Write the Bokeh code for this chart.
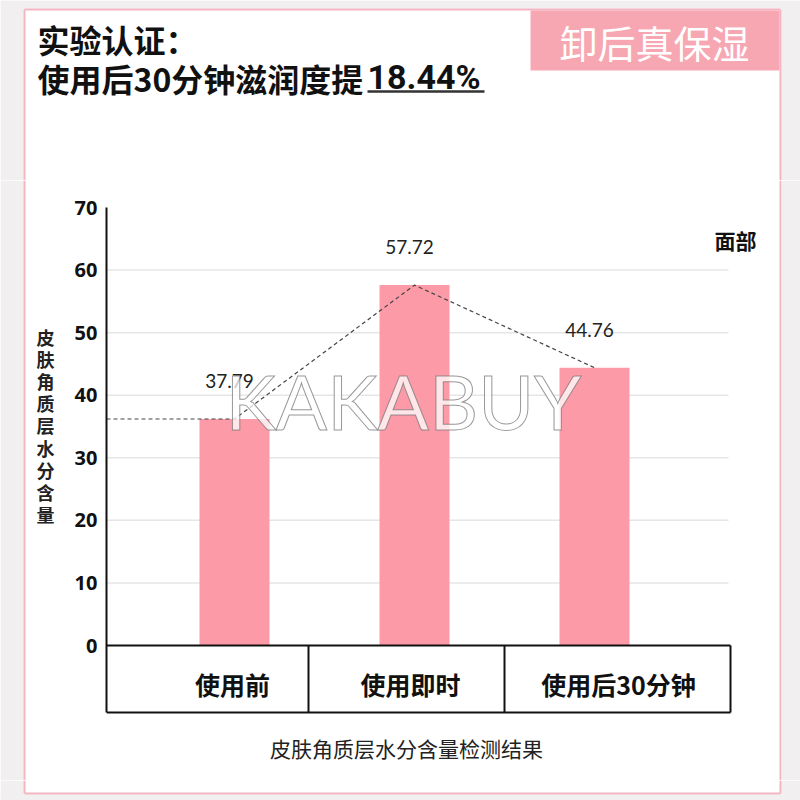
from bokeh.plotting import figure
from bokeh.layouts import column, row
from bokeh.models import Range1d, FixedTicker
from bokeh.core.properties import value
from bokeh.embed import file_html
from bokeh.resources import INLINE

# ---------------- data ----------------
categories = ["使用前", "使用即时", "使用后30分钟"]
bar_values = [36.2, 57.6, 44.4]
value_labels = ["37.79", "57.72", "44.76"]
y_ticks = [0, 10, 20, 30, 40, 50, 60, 70]
title_line1 = "实验认证："
title_line2 = "使用后30分钟滋润度提"
title_highlight = "18.44%"
badge_text = "卸后真保湿"
y_title = "皮肤角质层水分含量"
x_title = "皮肤角质层水分含量检测结果"
region_label = "面部"
watermark = "KAKABUY"

# ---------------- styles / layout (page pixels) ----------------
CJK = "Noto Sans CJK SC"
PINK_BAR = "#fd9aa8"
PINK_BADGE = "#f7a7b2"
PINK_LINE = "#f3b5c1"
GREY = "#f1eff0"
INK = "#111111"

HEAD_H = 180
FOOT_Y = 780
LEFT_W = 66
AXIS_W = 40
FL = LEFT_W + AXIS_W  # frame left (page x) = 106
Y0 = 645              # page y of value 0
Y70 = 207             # page y of value 70
PPU_Y = (Y0 - Y70) / 70
SLOT = 180
FIRST = 234
x_start = -(FIRST - FL) / SLOT
x_end = x_start + (800 - FL) / SLOT
y_end = (Y0 - HEAD_H) / PPU_Y
y_start = -(FOOT_Y - Y0) / PPU_Y


def px(x):
    return x_start + (x - FL) / SLOT


def py(y):
    return (Y0 - y) / PPU_Y


def blank(w, h, x0, y0):
    f = figure(width=w, height=h, output_backend="svg", toolbar_location=None,
               x_range=Range1d(x0, x0 + w), y_range=Range1d(y0 + h, y0),
               x_axis_location=None, y_axis_location=None,
               min_border_left=0, min_border_right=0, min_border_top=0,
               min_border_bottom=0, outline_line_color=None,
               background_fill_color="white", border_fill_color="white")
    f.grid.visible = False
    return f


# ---------------- header ----------------
H = blank(800, HEAD_H, 0, 0)
H.quad(left=[0, 781, 0], right=[23, 800, 800], top=[0, 0, 0],
       bottom=[HEAD_H, HEAD_H, 8], fill_color=GREY, line_color=None)
H.segment(x0=[24, 24, 780], y0=[9, 9, 9], x1=[780, 24, 780], y1=[9, HEAD_H, HEAD_H],
          line_color=PINK_LINE, line_width=2)
H.quad(left=[530], right=[779], top=[10], bottom=[70], fill_color=PINK_BADGE,
       line_color=None)
H.text(x=[654], y=[41], text=[badge_text], text_align="center", text_baseline="middle",
       text_font=value(CJK), text_font_size="38px", text_color="white")
H.text(x=[37, 37], y=[38, 77], text=[title_line1, title_line2], text_align="left",
       text_baseline="middle", text_font=value(CJK), text_font_style="bold",
       text_font_size="32px", text_color=INK)
H.text(x=[367], y=[76], text=[title_highlight], text_align="left",
       text_baseline="middle", text_font=value("Roboto"), text_font_style="bold",
       text_font_size="34px", text_color=INK)
H.segment(x0=[367], y0=[91], x1=[484], y1=[91], line_color="#333333", line_width=2.5)

# ---------------- left strip (y title) ----------------
L = blank(LEFT_W, FOOT_Y - HEAD_H, 0, HEAD_H)
L.quad(left=[0], right=[23], top=[HEAD_H], bottom=[FOOT_Y], fill_color=GREY,
       line_color=None)
L.segment(x0=[24], y0=[HEAD_H], x1=[24], y1=[FOOT_Y], line_color=PINK_LINE, line_width=2)
L.text(x=[45], y=[425], text=["\n".join(y_title)], text_align="center",
       text_baseline="middle", text_font=value(CJK), text_font_style="bold",
       text_font_size="18px", text_line_height=0.85, text_color="#222222")

# ---------------- chart ----------------
C = figure(width=800 - LEFT_W, height=FOOT_Y - HEAD_H, output_backend="svg",
           toolbar_location=None, x_range=Range1d(x_start, x_end),
           y_range=Range1d(y_start, y_end), x_axis_location=None,
           min_border_left=AXIS_W, min_border_right=0, min_border_top=0,
           min_border_bottom=0, outline_line_color=None,
           background_fill_color="white", border_fill_color="white")
C.grid.visible = False
ax = C.yaxis[0]
ax.ticker = FixedTicker(ticks=y_ticks)
ax.bounds = (py(712), 70)
ax.axis_line_color = INK
ax.axis_line_width = 2
ax.major_tick_line_color = None
ax.minor_tick_line_color = None
ax.major_tick_out = 0
ax.major_tick_in = 0
ax.minor_tick_out = 0
ax.major_label_text_font = "Noto Sans"
ax.major_label_text_font_style = "bold"
ax.major_label_text_font_size = "20px"
ax.major_label_text_color = INK
ax.major_label_standoff = 9

# horizontal gridlines (10..60), ending at the table's right edge
grid_vals = y_ticks[1:-1]
C.segment(x0=[px(FL)] * len(grid_vals), y0=grid_vals,
          x1=[px(728)] * len(grid_vals), y1=grid_vals,
          line_color="#e6e6e6", line_width=1.5)

idx = list(range(len(categories)))

# bars
C.vbar(x=idx, top=bar_values, bottom=0, width=70 / SLOT,
       fill_color=PINK_BAR, line_color=None)

# dashed trend line
C.line(x=[x_start] + idx, y=[bar_values[0]] + bar_values,
       line_color="#444444", line_width=1.2, line_dash="4 3")

# value labels
C.text(x=idx, y=bar_values, text=value_labels, x_offset=-5, y_offset=-38,
       text_align="center", text_baseline="middle",
       text_font=value("Lato"), text_font_size="19px", text_color="#222222")

# category table
bot = py(712)
C.segment(x0=[px(FL), px(FL), px(308), px(504), px(730)],
          y0=[0, bot, bot, bot, bot],
          x1=[px(730), px(730), px(308), px(504), px(730)],
          y1=[0, bot, 0, 0, 0],
          line_color=INK, line_width=2)
C.text(x=[px(232), px(410), px(618)], y=[py(683)] * 3, text=categories,
       text_align="center", text_baseline="middle",
       text_font=value(CJK), text_font_style="bold",
       text_font_size="25px", text_color=INK)

# x title
C.text(x=[px(406)], y=[py(747)], text=[x_title], text_align="center",
       text_baseline="middle", text_font=value(CJK),
       text_font_size="21px", text_color="#222222")

# region label
C.text(x=[px(735)], y=[py(239)], text=[region_label], text_align="center",
       text_baseline="middle", text_font=value(CJK), text_font_style="bold",
       text_font_size="21px", text_color=INK)

# right pink frame line + grey strip
C.segment(x0=[px(780)], y0=[y_start], x1=[px(780)], y1=[y_end],
          line_color=PINK_LINE, line_width=2)
C.quad(left=[px(781)], right=[px(800)], top=[y_end], bottom=[y_start],
       fill_color=GREY, line_color=None)

# watermark
C.text(x=[px(403)], y=[py(400)], text=[watermark], text_align="center",
       text_baseline="middle", text_font=value("Lato"),
       text_font_size="76px", text_color="white", text_alpha=0.75,
       text_outline_color="#777777")

# ---------------- footer ----------------
F = blank(800, 800 - FOOT_Y, 0, FOOT_Y)
F.quad(left=[0, 781, 0], right=[23, 800, 800], top=[FOOT_Y, FOOT_Y, 794],
       bottom=[800, 800, 800], fill_color=GREY, line_color=None)
F.segment(x0=[24, 780, 24], y0=[FOOT_Y, FOOT_Y, 793], x1=[24, 780, 780],
          y1=[793, 793, 793], line_color=PINK_LINE, line_width=2)

layout = column(H, row(L, C), F)
open("out.html", "w").write(file_html(layout, INLINE))
